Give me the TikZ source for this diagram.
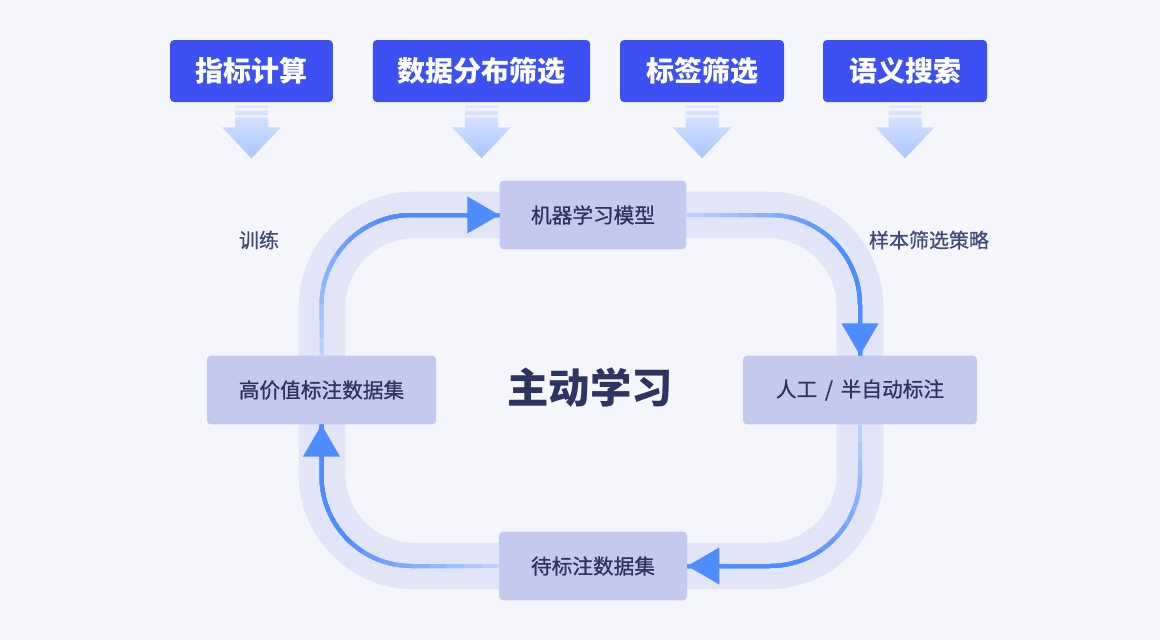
\documentclass[tikz,border=0pt]{standalone}
\usepackage{fontspec}
\setmainfont{Noto Sans CJK SC}
\newfontfamily\medfont{Noto Sans CJK SC}[FakeBold=0.9]
\usetikzlibrary{arrows.meta}
\definecolor{bgcol}{HTML}{F5F6FB}
\definecolor{topblue}{HTML}{3C50F3}
\definecolor{bandcol}{HTML}{E2E5F8}
\definecolor{stagefill}{HTML}{C4C9EE}
\definecolor{stagetext}{HTML}{2E3461}
\definecolor{labeltext}{HTML}{444B7A}
\definecolor{flowdark}{HTML}{4D8DFF}
\definecolor{flowlight}{HTML}{C2D7FF}
\definecolor{arrtop}{HTML}{E0E9FF}
\definecolor{arrbot}{HTML}{A8C6FF}

% gradient along the path: light at the start, dark at the tip
\newcommand\flowline[1]{%
	\foreach \s in {0,...,9}{%
		\pgfmathtruncatemacro\pct{10*\s+10}%
		\pgfmathsetmacro\off{13*\s}%
		\draw[flow, flowdark!\pct!flowlight, dash pattern=on 0pt off \off pt on 2000pt] #1;}%
	\draw[flow, flowdark, -{Triangle[length=24pt,width=27pt]}, dash pattern=on 0pt off 2000pt] #1;}

\begin{document}
\begin{tikzpicture}[x=0.75pt, y=-0.75pt,
		topbox/.style={fill=topblue, text=white, font=\bfseries\fontsize{21}{25}\selectfont, rounded corners=3pt, minimum height=46.5pt, inner sep=0pt},
		stage/.style={fill=stagefill, text=stagetext, font=\medfont\fontsize{15.5}{18}\selectfont, rounded corners=3pt, minimum height=51.5pt, inner sep=0pt},
		side/.style={text=labeltext, font=\medfont\fontsize{15}{18}\selectfont},
		flow/.style={line width=3pt, rounded corners=67.5pt}]
	\fill[bgcol] (0,0) rectangle (1160,640);
	
	% 顶部四个方法
	\node[topbox, minimum width=122pt] (calc) at (251.5,71) {指标计算};
	\node[topbox, minimum width=163pt] (dist) at (481.5,71) {数据分布筛选};
	\node[topbox, minimum width=123pt] (tag) at (702,71) {标签筛选};
	\node[topbox, minimum width=123pt] (sem) at (905,71) {语义搜索};
	\foreach \b in {calc,dist,tag,sem}
		\shade[shift={(\b.south)}, top color=arrtop, bottom color=arrbot]
			(-16.5,3) rectangle (16.5,6) (-16.5,8) rectangle (16.5,13) (-16.5,15) rectangle (16.5,25)
			(-29.5,25) -- (29.5,25) -- (0,56) -- cycle;
	
	% 循环底带
	\draw[bandcol, line width=35pt, rounded corners=69pt] (322,215) rectangle (860,566);
	
	% 四个阶段
	\node[stage, minimum width=140pt] (model) at (593,215) {机器学习模型};
	\node[stage, minimum width=175.5pt] (label) at (860,390) {人工\hspace{0.15em} / \hspace{0.15em}半自动标注};
	\node[stage, minimum width=141pt] (pool) at (593,566) {待标注数据集};
	\node[stage, minimum width=172pt] (gold) at (321.5,390) {高价值标注数据集};
	\node[text=stagetext, font=\bfseries\fontsize{31}{36}\selectfont] (core) at (590,388) {主动学习};
	
	% 箭头
	\flowline{(gold.north) |- (model.west)}
	\flowline{(model.east) -| (label.north)}
	\flowline{(label.south) |- (pool.east)}
	\flowline{(pool.west) -| (gold.south)}
	
	\node[side] (train) at (259,240) {训练};
	\node[side] (strategy) at (929,240) {样本筛选策略};
\end{tikzpicture}
\end{document}
